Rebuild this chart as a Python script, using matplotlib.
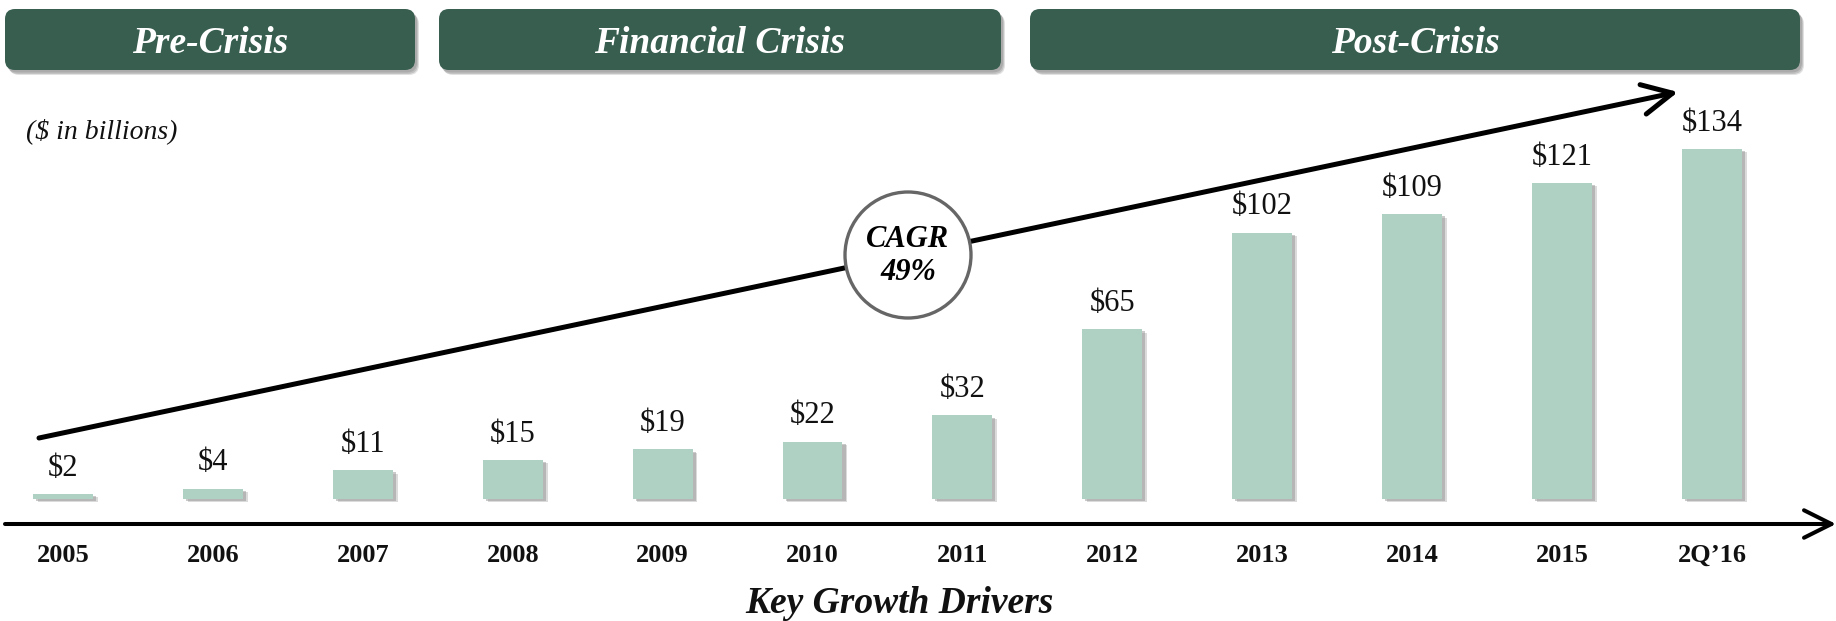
import matplotlib
matplotlib.use("Agg")
import matplotlib.pyplot as plt
from matplotlib.patches import FancyBboxPatch, Circle
from matplotlib.transforms import Affine2D, blended_transform_factory
import matplotlib.patheffects as pe

plt.rcParams['font.family'] = ['Liberation Serif', 'DejaVu Serif']

# ---- data ----
categories = ["2005", "2006", "2007", "2008", "2009", "2010", "2011",
              "2012", "2013", "2014", "2015", "2Q\u201916"]
values = [2, 4, 11, 15, 19, 22, 32, 65, 102, 109, 121, 134]
value_labels = ["$2", "$4", "$11", "$15", "$19", "$22", "$32",
                "$65", "$102", "$109", "$121", "$134"]
phases = ["Pre-Crisis", "Financial Crisis", "Post-Crisis"]
cagr_text = "CAGR\n49%"
unit_note = "($ in billions)"
footer = "Key Growth Drivers"

BAR = "#AFD1C4"
DARK = "#375E4F"

W, H = 1836, 621
fig = plt.figure(figsize=(W / 100, H / 100), dpi=100)
ax = fig.add_axes([0, 0, 1, 1])
ax.set_xlim(-0.4203, 11.828)
ax.set_ylim(-46.7, 191.0)
ax.axis("off")

# pixel transform (origin top-left)
pix = Affine2D().scale(1, -1).translate(0, H) + Affine2D().scale(1 / W, 1 / H) + fig.transFigure
xdata_ypix = blended_transform_factory(ax.transData, pix)

x = list(range(len(categories)))
bars = ax.bar(x, values, width=0.40, color=BAR, zorder=3)
for b in bars:
    b.set_path_effects([
        pe.SimplePatchShadow(offset=(3.5, -2.5), shadow_rgbFace="#9a9a9a", alpha=0.35),
        pe.SimplePatchShadow(offset=(2.2, -1.6), shadow_rgbFace="#8a8a8a", alpha=0.45),
        pe.Normal()])

for xi, v, lab in zip(x, values, value_labels):
    ax.annotate(lab, (xi, v), xytext=(0, 13), textcoords="offset points",
                ha="center", va="baseline", fontsize=22, color="#111111", zorder=5)

for xi, c in zip(x, categories):
    ax.text(xi, 562, c, transform=xdata_ypix, ha="center", va="baseline",
            fontsize=19, fontweight="bold", color="#111111")

# x axis arrow
ax.annotate("", xy=(1836, 524), xytext=(5, 524), xycoords=pix, textcoords=pix,
            arrowprops=dict(arrowstyle="->,head_length=0.9,head_width=0.45",
                            lw=2.9, color="black", shrinkA=0, shrinkB=0,
                            mutation_scale=22), zorder=4)

# trend arrow
ax.annotate("", xy=(1678, 92), xytext=(39, 438), xycoords=pix, textcoords=pix,
            arrowprops=dict(arrowstyle="->,head_length=0.9,head_width=0.45",
                            lw=3.6, color="black", shrinkA=0, shrinkB=0,
                            mutation_scale=24), zorder=6)

# CAGR circle
circ = Circle((908, 255), 63, transform=pix, facecolor="white",
              edgecolor="#666666", lw=2.4, zorder=7)
ax.add_patch(circ)
ax.text(908, 256, cagr_text, transform=pix, ha="center", va="center",
        fontsize=22, fontweight="bold", fontstyle="italic", linespacing=1.2,
        zorder=8)

# header boxes
boxes = [(5, 415), (439, 1001), (1030, 1800)]
for (x0, x1), label in zip(boxes, phases):
    y0, y1 = 9, 70
    for dx, dy, a in [(4, 5, 0.25), (3, 4, 0.35), (2, 2.5, 0.4)]:
        shadow = FancyBboxPatch((x0 + dx, y0 + dy), x1 - x0, y1 - y0,
                                boxstyle="round,pad=0,rounding_size=10",
                                transform=pix, facecolor="#8a8a8a", edgecolor="none",
                                alpha=a, zorder=8)
        ax.add_patch(shadow)
    box = FancyBboxPatch((x0, y0), x1 - x0, y1 - y0,
                         boxstyle="round,pad=0,rounding_size=10",
                         transform=pix, facecolor=DARK, edgecolor="none", zorder=9)
    ax.add_patch(box)
    ax.text((x0 + x1) / 2, (y0 + y1) / 2 + 4, label, transform=pix, ha="center",
            va="center", fontsize=27, fontweight="bold", fontstyle="italic",
            color="white", zorder=10)

ax.text(26, 131, unit_note, transform=pix, ha="left", va="center",
        fontsize=20, fontstyle="italic", color="#111111")

ax.text(899, 613, footer, transform=pix, ha="center", va="baseline",
        fontsize=27, fontweight="bold", fontstyle="italic", color="#111111")

fig.savefig("out.png", dpi=100)
